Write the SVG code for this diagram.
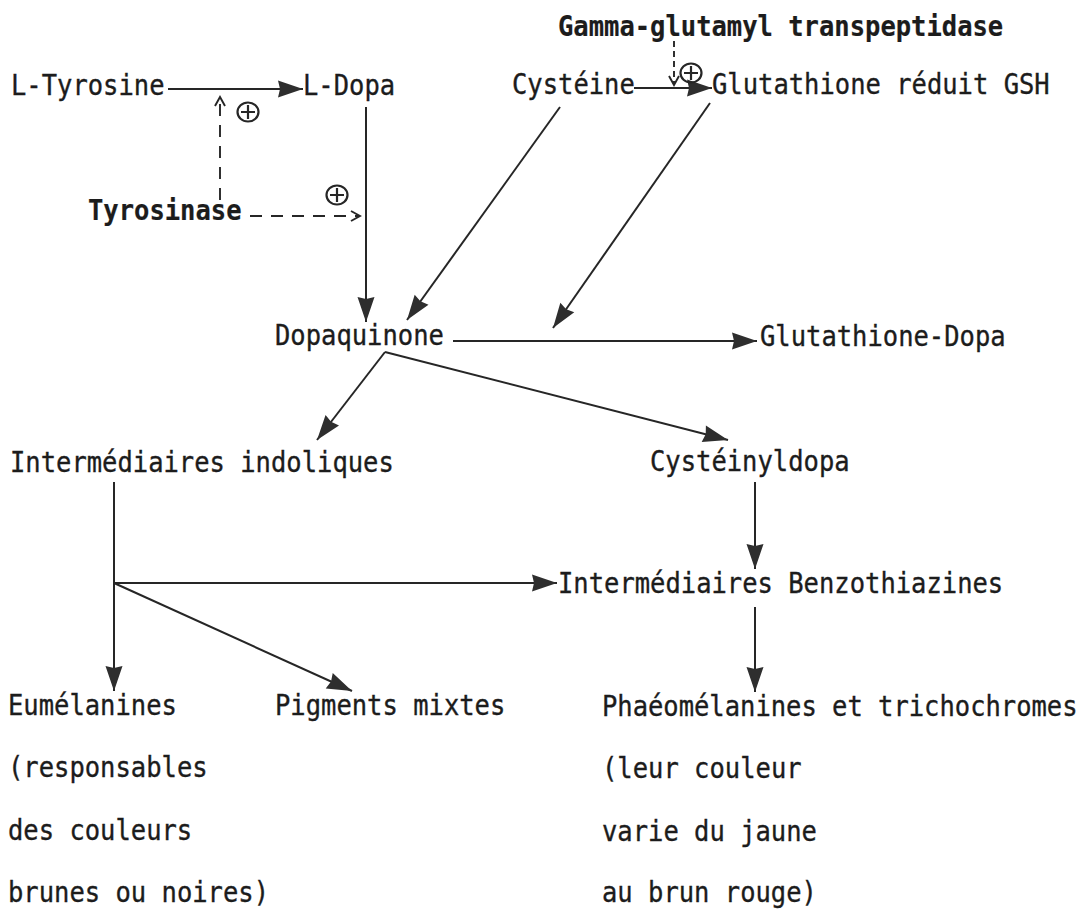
<svg xmlns="http://www.w3.org/2000/svg" width="1091" height="910" viewBox="0 0 1091 910">
<style>
  text { font-family: "DejaVu Sans Mono", "Liberation Mono", monospace; font-size: 27.5px; fill: #1c1c1c; stroke: #1c1c1c; stroke-width: 0.35; }
  .b { font-weight: bold; stroke-width: 0.2; }
  .c { stroke: #262626; stroke-width: 2; fill: none; }
  .arr { marker-end: url(#fa); }
  .d { stroke: #262626; stroke-width: 1.9; fill: none; stroke-dasharray: 12 9; marker-end: url(#oa); }
  .d2 { stroke: #262626; stroke-width: 1.9; fill: none; stroke-dasharray: 6 4; marker-end: url(#oa); }
  .op { stroke: #262626; stroke-width: 2.2; fill: none; }
</style>
<defs>
  <marker id="fa" markerUnits="userSpaceOnUse" markerWidth="28" markerHeight="20" refX="25" refY="8.5" orient="auto" overflow="visible">
    <path d="M0,0 L25,8.5 L0,17 L2,8.5 z" fill="#2e2e2e"/>
  </marker>
  <marker id="oa" markerUnits="userSpaceOnUse" markerWidth="12" markerHeight="12" refX="9" refY="5" orient="auto" overflow="visible">
    <path d="M0,0 L9,5 L0,10" fill="none" stroke="#262626" stroke-width="1.9"/>
  </marker>
  <g id="plus">
    <ellipse cx="0" cy="0" rx="10.5" ry="9.5" class="op"/>
    <path d="M-7,0 H7 M0,-7 V7" class="op"/>
  </g>
</defs>
<rect width="1091" height="910" fill="#ffffff"/>

<g id="connectors">
  <line class="c arr" x1="168" y1="89" x2="303" y2="89"/>
  <line class="c arr" x1="366" y1="107" x2="366" y2="322"/>
  <line class="c arr" x1="634" y1="88" x2="712" y2="88"/>
  <line class="c arr" x1="560" y1="107" x2="407" y2="320"/>
  <line class="c arr" x1="710" y1="103" x2="553" y2="328"/>
  <line class="c arr" x1="453" y1="341" x2="757" y2="341"/>
  <line class="c arr" x1="385" y1="352" x2="317" y2="440"/>
  <line class="c arr" x1="385" y1="352" x2="728" y2="440"/>
  <line class="c arr" x1="114" y1="482" x2="114" y2="691"/>
  <line class="c arr" x1="114" y1="583" x2="557" y2="583"/>
  <line class="c arr" x1="114" y1="583" x2="352" y2="691"/>
  <line class="c arr" x1="755" y1="482" x2="755" y2="569"/>
  <line class="c arr" x1="755" y1="607" x2="755" y2="692"/>
  <line class="d" x1="220" y1="200" x2="220" y2="97"/>
  <line class="d" x1="250" y1="216" x2="360" y2="216"/>
  <line class="d2" x1="674" y1="41" x2="674" y2="85"/>
  <use href="#plus" x="248" y="112"/>
  <use href="#plus" x="337" y="195"/>
  <use href="#plus" x="691" y="73"/>
</g>

<g id="n-tyrosine"><text x="11" y="95" textLength="153.5" lengthAdjust="spacingAndGlyphs">L-Tyrosine</text></g>
<g id="n-ldopa"><text x="303" y="95" textLength="92.1" lengthAdjust="spacingAndGlyphs">L-Dopa</text></g>
<g id="n-cysteine"><text x="512" y="94" textLength="122.8" lengthAdjust="spacingAndGlyphs">Cystéine</text></g>
<g id="n-gsh"><text x="712" y="94" textLength="337.7" lengthAdjust="spacingAndGlyphs">Glutathione réduit GSH</text></g>
<g id="n-ggt"><text class="b" x="558" y="36" textLength="445.2" lengthAdjust="spacingAndGlyphs">Gamma-glutamyl transpeptidase</text></g>
<g id="n-tyrosinase"><text class="b" x="88" y="220" textLength="153.5" lengthAdjust="spacingAndGlyphs">Tyrosinase</text></g>
<g id="n-dopaquinone"><text x="275" y="345" textLength="168.9" lengthAdjust="spacingAndGlyphs">Dopaquinone</text></g>
<g id="n-gludopa"><text x="760" y="346" textLength="245.6" lengthAdjust="spacingAndGlyphs">Glutathione-Dopa</text></g>
<g id="n-indol"><text x="10" y="472" textLength="383.8" lengthAdjust="spacingAndGlyphs">Intermédiaires indoliques</text></g>
<g id="n-cysdopa"><text x="650" y="471" textLength="199.6" lengthAdjust="spacingAndGlyphs">Cystéinyldopa</text></g>
<g id="n-benzo"><text x="558" y="593" textLength="445.2" lengthAdjust="spacingAndGlyphs">Intermédiaires Benzothiazines</text></g>
<g id="n-eumel">
  <text x="8" y="715" textLength="168.9" lengthAdjust="spacingAndGlyphs">Eumélanines</text>
  <text x="8" y="777" textLength="199.6" lengthAdjust="spacingAndGlyphs">(responsables</text>
  <text x="8" y="840" textLength="184.2" lengthAdjust="spacingAndGlyphs">des couleurs</text>
  <text x="8" y="902" textLength="261" lengthAdjust="spacingAndGlyphs">brunes ou noires)</text>
</g>
<g id="n-mixtes"><text x="275" y="715" textLength="230.3" lengthAdjust="spacingAndGlyphs">Pigments mixtes</text></g>
<g id="n-pheo">
  <text transform="translate(602 716) scale(0.927 1)" x="0" y="0">Phaéomélanines et trichochromes</text>
  <text x="602" y="778" textLength="199.6" lengthAdjust="spacingAndGlyphs">(leur couleur</text>
  <text x="602" y="841" textLength="214.9" lengthAdjust="spacingAndGlyphs">varie du jaune</text>
  <text x="602" y="902" textLength="214.9" lengthAdjust="spacingAndGlyphs">au brun rouge)</text>
</g>
</svg>
